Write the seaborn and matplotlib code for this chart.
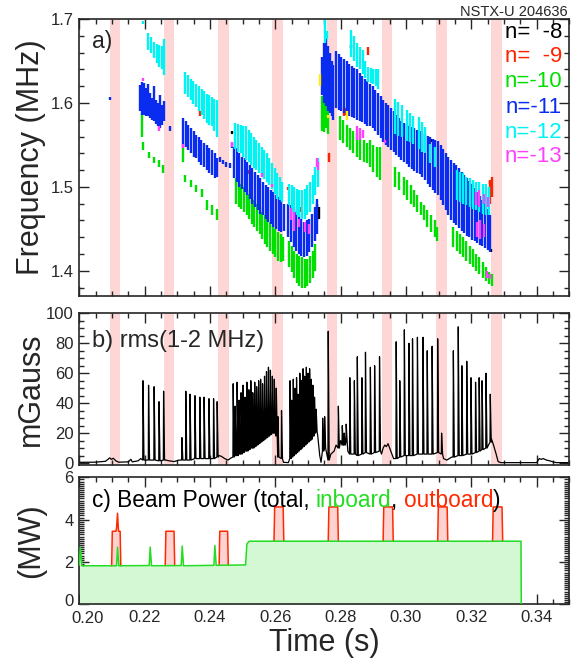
import numpy as np
import pandas as pd
import seaborn as sns
import matplotlib.pyplot as plt
from matplotlib.ticker import MultipleLocator, FormatStrFormatter, FuncFormatter

sns.set_theme(style="ticks")
plt.rcParams['font.family'] = ['Liberation Sans', 'DejaVu Sans']

# ---------------- data ----------------
# time windows of the outboard beam blips (shaded bands)
band_t0 = [0.2094, 0.2259, 0.2425, 0.2591, 0.2757, 0.2926, 0.3092, 0.3260]
band_t1 = [0.2124, 0.2291, 0.2457, 0.2623, 0.2788, 0.2956, 0.3125, 0.3293]

# panel a: mode activity, vertical streaks (time, f low, f high) per toroidal mode number
n11_t = [0.2094, 0.2186, 0.2192, 0.2198, 0.2204, 0.2211, 0.2217, 0.2223, 0.2229, 0.2235, 0.2241, 0.2247, 0.2253, 0.2259, 0.2278,
         0.2318, 0.2326, 0.2334, 0.2342, 0.2350, 0.2358, 0.2366, 0.2374, 0.2382, 0.2390, 0.2398, 0.2406, 0.2414, 0.2422,
         0.2432, 0.2440, 0.2450, 0.2460, 0.2468,
         0.2474, 0.2482, 0.2490, 0.2498, 0.2506, 0.2514, 0.2522, 0.2530, 0.2538, 0.2546, 0.2554, 0.2562, 0.2570, 0.2578,
         0.2586, 0.2594, 0.2602, 0.2610, 0.2618, 0.2626,
         0.2640, 0.2648, 0.2656, 0.2664, 0.2672, 0.2680, 0.2688, 0.2696, 0.2704, 0.2712, 0.2720, 0.2728,
         0.2742, 0.2748, 0.2754, 0.2760, 0.2766, 0.2772, 0.2778,
         0.2786, 0.2794, 0.2802, 0.2810, 0.2818, 0.2826, 0.2834, 0.2842, 0.2850, 0.2858, 0.2866, 0.2874, 0.2882, 0.2890,
         0.2898, 0.2906, 0.2914, 0.2922, 0.2930, 0.2938, 0.2946, 0.2954, 0.2962, 0.2970, 0.2978, 0.2986, 0.2994, 0.3002,
         0.3010, 0.3018, 0.3026, 0.3034, 0.3042, 0.3050, 0.3058, 0.3066, 0.3074, 0.3082, 0.3090, 0.3098, 0.3106, 0.3114,
         0.3122, 0.3130, 0.3138, 0.3146, 0.3154, 0.3162, 0.3170, 0.3178, 0.3186, 0.3194, 0.3202, 0.3210, 0.3218, 0.3226,
         0.3234, 0.3242, 0.3250, 0.3258]
n11_lo = [1.603, 1.590, 1.586, 1.586, 1.584, 1.584, 1.582, 1.580, 1.578, 1.575, 1.572, 1.570, 1.574, 1.578, 1.566,
          1.548, 1.548, 1.544, 1.540, 1.536, 1.534, 1.530, 1.526, 1.524, 1.520, 1.516, 1.514, 1.510, 1.512,
          1.530, 1.527, 1.524, 1.522, 1.546,
          1.510, 1.506, 1.500, 1.498, 1.494, 1.490, 1.486, 1.480, 1.476, 1.472, 1.468, 1.466, 1.462, 1.458,
          1.456, 1.452, 1.450, 1.448, 1.446, 1.448,
          1.440, 1.434, 1.428, 1.424, 1.420, 1.418, 1.416, 1.418, 1.422, 1.428, 1.436, 1.444,
          1.610, 1.600, 1.596, 1.590, 1.588, 1.585, 1.580,
          1.594, 1.592, 1.590, 1.588, 1.586, 1.585, 1.583, 1.582, 1.580, 1.578, 1.577, 1.575, 1.573, 1.572,
          1.570, 1.566, 1.562, 1.558, 1.554, 1.550, 1.547, 1.544, 1.541, 1.538, 1.535, 1.532, 1.530, 1.527,
          1.524, 1.521, 1.519, 1.517, 1.515, 1.512, 1.508, 1.504, 1.500, 1.496, 1.493, 1.490, 1.484, 1.478,
          1.472, 1.466, 1.461, 1.457, 1.454, 1.451, 1.448, 1.445, 1.442, 1.440, 1.437, 1.435, 1.433, 1.431,
          1.429, 1.427, 1.425, 1.422]
n11_hi = [1.607, 1.621, 1.625, 1.624, 1.618, 1.623, 1.612, 1.606, 1.620, 1.604, 1.600, 1.610, 1.598, 1.602, 1.572,
          1.582, 1.578, 1.574, 1.570, 1.566, 1.562, 1.560, 1.556, 1.552, 1.550, 1.546, 1.544, 1.540, 1.534,
          1.536, 1.532, 1.530, 1.528, 1.552,
          1.548, 1.546, 1.540, 1.536, 1.534, 1.530, 1.526, 1.522, 1.518, 1.514, 1.510, 1.506, 1.502, 1.500,
          1.496, 1.494, 1.490, 1.488, 1.486, 1.480,
          1.480, 1.478, 1.476, 1.470, 1.466, 1.462, 1.458, 1.460, 1.462, 1.468, 1.476, 1.486,
          1.655, 1.672, 1.680, 1.668, 1.660, 1.650, 1.645,
          1.662, 1.658, 1.655, 1.652, 1.650, 1.646, 1.644, 1.642, 1.640, 1.636, 1.632, 1.628, 1.626, 1.622,
          1.620, 1.616, 1.612, 1.608, 1.604, 1.600, 1.597, 1.594, 1.590, 1.586, 1.582, 1.579, 1.576, 1.575,
          1.573, 1.571, 1.570, 1.568, 1.566, 1.565, 1.563, 1.561, 1.559, 1.557, 1.556, 1.555, 1.550, 1.545,
          1.540, 1.536, 1.532, 1.529, 1.526, 1.522, 1.518, 1.514, 1.510, 1.507, 1.504, 1.499, 1.494, 1.489,
          1.484, 1.479, 1.474, 1.466]

n12_t = [0.2195, 0.2211, 0.2220, 0.2229, 0.2237, 0.2245, 0.2253, 0.2260,
         0.2324, 0.2332, 0.2341, 0.2349, 0.2357, 0.2366, 0.2375, 0.2382, 0.2390, 0.2398, 0.2405, 0.2413, 0.2421,
         0.2478, 0.2486, 0.2494, 0.2502, 0.2510, 0.2518, 0.2526, 0.2534, 0.2542, 0.2550, 0.2558, 0.2566, 0.2574,
         0.2582, 0.2590, 0.2598, 0.2606, 0.2614, 0.2622,
         0.2642, 0.2650, 0.2658, 0.2666, 0.2674, 0.2682, 0.2690, 0.2698, 0.2706, 0.2714, 0.2722, 0.2730,
         0.2752, 0.2758,
         0.2831, 0.2840, 0.2849, 0.2858, 0.2867, 0.2876, 0.2884, 0.2892, 0.2900, 0.2908, 0.2915,
         0.2967, 0.2977, 0.2988, 0.3003, 0.3013, 0.3023, 0.3039, 0.3049, 0.3059, 0.3074, 0.3090,
         0.3155, 0.3165, 0.3175, 0.3185, 0.3195, 0.3205, 0.3215, 0.3225, 0.3235, 0.3245, 0.3255]
n12_lo = [1.694, 1.663, 1.660, 1.653, 1.648, 1.643, 1.640, 1.633,
          1.611, 1.607, 1.603, 1.599, 1.595, 1.590, 1.586, 1.581, 1.576, 1.574, 1.572, 1.566, 1.560,
          1.545, 1.542, 1.540, 1.536, 1.532, 1.530, 1.526, 1.523, 1.520, 1.516, 1.512, 1.509, 1.506,
          1.502, 1.498, 1.492, 1.486, 1.484, 1.482,
          1.478, 1.472, 1.468, 1.466, 1.464, 1.462, 1.462, 1.466, 1.470, 1.480, 1.490, 1.500,
          1.672, 1.676,
          1.655, 1.650, 1.643, 1.640, 1.635, 1.630, 1.625, 1.624, 1.623, 1.620, 1.617,
          1.563, 1.561, 1.560, 1.555, 1.553, 1.551, 1.545, 1.542, 1.540, 1.528, 1.524,
          1.484, 1.482, 1.480, 1.478, 1.476, 1.474, 1.472, 1.470, 1.468, 1.466, 1.466]
n12_hi = [1.698, 1.683, 1.678, 1.673, 1.670, 1.669, 1.668, 1.676,
          1.637, 1.633, 1.629, 1.626, 1.623, 1.620, 1.617, 1.614, 1.611, 1.609, 1.607, 1.605, 1.603,
          1.576, 1.575, 1.574, 1.573, 1.572, 1.568, 1.564, 1.560, 1.556, 1.552, 1.548, 1.544, 1.540,
          1.534, 1.528, 1.522, 1.516, 1.512, 1.506,
          1.504, 1.502, 1.500, 1.498, 1.496, 1.496, 1.498, 1.502, 1.506, 1.514, 1.524, 1.534,
          1.700, 1.686,
          1.687, 1.680, 1.671, 1.667, 1.663, 1.650, 1.643, 1.642, 1.641, 1.641, 1.641,
          1.605, 1.601, 1.597, 1.591, 1.588, 1.585, 1.583, 1.577, 1.571, 1.551, 1.547,
          1.520, 1.518, 1.516, 1.512, 1.510, 1.508, 1.506, 1.506, 1.504, 1.504, 1.500]

n10_t = [0.2192, 0.2196, 0.2212, 0.2229, 0.2245, 0.2257,
         0.2318, 0.2324, 0.2341, 0.2357, 0.2375, 0.2390, 0.2405, 0.2421,
         0.2480, 0.2488, 0.2496, 0.2504, 0.2512, 0.2520, 0.2528, 0.2536, 0.2544, 0.2552, 0.2560, 0.2568, 0.2576,
         0.2584, 0.2592, 0.2600, 0.2608, 0.2616, 0.2624,
         0.2642, 0.2650, 0.2658, 0.2666, 0.2674, 0.2682, 0.2690, 0.2698, 0.2706, 0.2714, 0.2722,
         0.2744, 0.2750, 0.2756, 0.2762,
         0.2798, 0.2808, 0.2818, 0.2828, 0.2838, 0.2849, 0.2860, 0.2870, 0.2880, 0.2890, 0.2900, 0.2910, 0.2921,
         0.2967, 0.2980, 0.2995, 0.3003, 0.3015, 0.3025, 0.3035, 0.3045, 0.3055, 0.3065, 0.3078, 0.3088, 0.3094,
         0.3145, 0.3155, 0.3165, 0.3175, 0.3185, 0.3195, 0.3205, 0.3215, 0.3225, 0.3235, 0.3245, 0.3255, 0.3262]
n10_lo = [1.560, 1.544, 1.534, 1.528, 1.524, 1.516,
          1.530, 1.506, 1.500, 1.494, 1.488, 1.472, 1.466, 1.460,
          1.480, 1.476, 1.474, 1.470, 1.466, 1.462, 1.456, 1.452, 1.448, 1.444, 1.438, 1.432, 1.428,
          1.424, 1.420, 1.416, 1.412, 1.410, 1.412,
          1.404, 1.398, 1.392, 1.386, 1.382, 1.380, 1.380, 1.382, 1.386, 1.392, 1.400,
          1.566, 1.565, 1.570, 1.563,
          1.556, 1.552, 1.548, 1.544, 1.540, 1.536, 1.532, 1.530, 1.528, 1.524, 1.518, 1.512, 1.508,
          1.500, 1.496, 1.490, 1.484, 1.480, 1.476, 1.470, 1.466, 1.460, 1.452, 1.446, 1.440, 1.436,
          1.428, 1.424, 1.420, 1.416, 1.412, 1.408, 1.404, 1.400, 1.396, 1.392, 1.388, 1.384, 1.382]
n10_hi = [1.588, 1.554, 1.542, 1.536, 1.532, 1.526,
          1.548, 1.514, 1.508, 1.502, 1.498, 1.484, 1.478, 1.474,
          1.510, 1.508, 1.504, 1.500, 1.496, 1.492, 1.488, 1.484, 1.480, 1.476, 1.470, 1.466, 1.462,
          1.458, 1.454, 1.450, 1.446, 1.444, 1.440,
          1.436, 1.430, 1.424, 1.420, 1.418, 1.416, 1.414, 1.414, 1.418, 1.424, 1.432,
          1.608, 1.612, 1.605, 1.590,
          1.584, 1.580, 1.574, 1.570, 1.566, 1.564, 1.560, 1.556, 1.552, 1.556, 1.550, 1.548, 1.548,
          1.524, 1.518, 1.512, 1.508, 1.502, 1.496, 1.490, 1.482, 1.478, 1.472, 1.466, 1.460, 1.452,
          1.452, 1.448, 1.444, 1.440, 1.436, 1.430, 1.426, 1.420, 1.416, 1.410, 1.404, 1.398, 1.396]

n13_t = [0.2195, 0.2245, 0.2318, 0.2466, 0.2560, 0.2590, 0.2648, 0.2656, 0.2672, 0.2690, 0.2704, 0.2727, 0.2732,
         0.2850, 0.2860, 0.2869, 0.2935, 0.3215, 0.3225, 0.3240, 0.3250, 0.3218, 0.3228, 0.3238, 0.3248, 0.3258]
n13_lo = [1.626, 1.566, 1.546, 1.548, 1.512, 1.500, 1.460, 1.448, 1.452, 1.446, 1.444, 1.524, 1.520,
          1.556, 1.556, 1.558, 1.552, 1.478, 1.476, 1.480, 1.476, 1.440, 1.438, 1.440, 1.392, 1.390]
n13_hi = [1.630, 1.572, 1.551, 1.553, 1.517, 1.504, 1.475, 1.470, 1.462, 1.458, 1.456, 1.534, 1.530,
          1.572, 1.570, 1.568, 1.556, 1.494, 1.496, 1.492, 1.488, 1.458, 1.460, 1.456, 1.400, 1.396]

n9_t = [0.2370, 0.2520, 0.2640, 0.2680, 0.2748, 0.2756, 0.2763, 0.2810, 0.2816, 0.2884, 0.3257, 0.3263]
n9_lo = [1.585, 1.515, 1.496, 1.470, 1.584, 1.586, 1.530, 1.585, 1.586, 1.657, 1.480, 1.488]
n9_hi = [1.590, 1.520, 1.500, 1.476, 1.600, 1.598, 1.540, 1.595, 1.594, 1.667, 1.508, 1.512]

n8_t = [0.2467, 0.2728, 0.2733, 0.2831, 0.3081, 0.3257, 0.3259]
n8_lo = [1.563, 1.460, 1.462, 1.665, 1.553, 1.503, 1.422]
n8_hi = [1.567, 1.480, 1.476, 1.669, 1.557, 1.507, 1.426]

n7_t = [0.2737, 0.2760, 0.2818]
n7_lo = [1.620, 1.582, 1.580]
n7_hi = [1.635, 1.586, 1.590]

# panel b: rms of 1-2 MHz fluctuations (mGauss): spikes and quiet background
spike_t = [0.2195, 0.2212, 0.2229, 0.2244, 0.2258,
           0.2314, 0.2326, 0.2339, 0.2354, 0.2369, 0.2382, 0.2397, 0.2411, 0.2422,
           0.2471, 0.2477, 0.2483, 0.2489, 0.2495, 0.2501, 0.2507, 0.2513, 0.2519, 0.2525, 0.2531, 0.2537,
           0.2543, 0.2549, 0.2555, 0.2561, 0.2567, 0.2573, 0.2579, 0.2585, 0.2591, 0.2597, 0.2603, 0.2608, 0.2619,
           0.2645, 0.2650, 0.2655, 0.2660, 0.2665, 0.2670, 0.2675, 0.2680, 0.2685, 0.2690, 0.2695, 0.2700,
           0.2705, 0.2710, 0.2715, 0.2720, 0.2725,
           0.2745, 0.2751, 0.2762, 0.2793, 0.2805, 0.2811, 0.2817,
           0.2828, 0.2842, 0.2851, 0.2865, 0.2876, 0.2891, 0.2904, 0.2919,
           0.2970, 0.2981, 0.2995, 0.3009, 0.3020, 0.3035, 0.3052, 0.3065, 0.3080, 0.3097, 0.3109,
           0.3145, 0.3160, 0.3171, 0.3186, 0.3199, 0.3213, 0.3224, 0.3233, 0.3245, 0.3258]
spike_top = [55, 52, 51, 41, 48,
             17, 48, 46, 45, 44, 44, 43, 43, 41,
             53, 38, 54, 42, 47, 52, 44, 54, 49, 55, 47, 54,
             51, 55, 56, 53, 58, 61, 64, 62, 58, 56, 50, 31, 35,
             55, 42, 56, 50, 57, 46, 60, 55, 63, 58, 64, 60,
             63, 56, 52, 44, 36,
             30, 31, 88, 38, 25, 20, 26,
             57, 55, 71, 57, 74, 64, 65, 71,
             81, 55, 89, 80, 83, 84, 84, 75, 78, 83, 20,
             75, 91, 65, 68, 57, 54, 57, 55, 60, 46]
spike_base = [2, 2, 2, 1.5, 2,
              2, 2, 2, 3, 3, 3, 3, 3, 4,
              4, 5, 5, 6, 6, 7, 8, 8, 9, 10, 10, 11,
              12, 13, 14, 15, 16, 17, 18, 19, 20, 20, 18, 4, 3,
              3, 4, 5, 6, 7, 8, 9, 10, 11, 12, 13, 14,
              15, 16, 18, 20, 21,
              8, 10, 2, 10, 12, 12, 14,
              6, 6, 5, 6, 7, 6, 7, 8,
              3, 4, 5, 5, 5, 6, 6, 6, 6, 7, 6,
              4, 5, 5, 6, 6, 7, 8, 9, 10, 14]
quiet_t = [0.2000, 0.2050, 0.2080, 0.2088, 0.2093, 0.2098, 0.2104, 0.2112, 0.2120, 0.2150, 0.2158, 0.2162,
           0.2180, 0.2188, 0.2265, 0.2275, 0.2290, 0.2305, 0.2428, 0.2435, 0.2445, 0.2455, 0.2465,
           0.2625, 0.2640, 0.2730, 0.2736, 0.2740, 0.2770, 0.2780, 0.2786, 0.2800, 0.2822,
           0.2925, 0.2930, 0.2935, 0.2940, 0.2945, 0.2950, 0.2955, 0.2962, 0.3115, 0.3125, 0.3140,
           0.3262, 0.3268, 0.3276, 0.3282, 0.3290, 0.3400, 0.3408, 0.3414, 0.3420, 0.3430, 0.3440,
           0.3450, 0.3460, 0.3500]
quiet_v = [0.5, 0.6, 1.2, 2.5, 3.5, 2.5, 3.2, 1.5, 0.6, 0.8, 2.5, 0.8,
           1.5, 3.0, 2.0, 1.5, 1.0, 2.0, 5.0, 4.5, 3.0, 2.0, 3.5,
           0.5, 0.3, 18, 5, 0.5, 6, 8, 12, 15, 8,
           6, 10, 12, 11, 13, 10, 7, 3, 3, 2, 4,
           16, 12, 6, 1, 0.3, 0.3, 3, 2.5, 3, 2, 1.5,
           0.8, 0.3, 0.3]

# panel c: beam power (MW)
inboard_t = [0.2000, 0.2003, 0.2008, 0.2114, 0.2117, 0.2121, 0.2214, 0.2217, 0.2221, 0.2312, 0.2315, 0.2319,
             0.2412, 0.2415, 0.2419, 0.2509, 0.2513, 0.2520, 0.3352, 0.3353]
inboard_p = [1.85, 2.70, 1.82, 1.82, 2.70, 1.82, 1.83, 2.70, 1.82, 1.83, 2.75, 1.82,
             1.84, 2.78, 1.84, 1.86, 2.85, 2.98, 2.98, 0.0]
total_t = [0.2099, 0.2101, 0.2112, 0.2114, 0.2117, 0.2120, 0.2125, 0.2127, np.nan,
           0.2263, 0.2265, 0.2290, 0.2292, np.nan, 0.2428, 0.2430, 0.2454, 0.2456, np.nan,
           0.2596, 0.2598, 0.2624, 0.2626, np.nan, 0.2762, 0.2764, 0.2791, 0.2793, np.nan,
           0.2930, 0.2932, 0.2959, 0.2961, np.nan, 0.3097, 0.3099, 0.3126, 0.3128, np.nan,
           0.3265, 0.3267, 0.3294, 0.3296]
total_p = [1.82, 3.45, 3.45, 3.60, 4.30, 3.45, 3.45, 1.82, np.nan,
           1.83, 3.45, 3.45, 1.83, np.nan, 1.84, 3.45, 3.45, 1.84, np.nan,
           2.98, 4.60, 4.60, 2.98, np.nan, 2.98, 4.60, 4.60, 2.98, np.nan,
           2.98, 4.60, 4.60, 2.98, np.nan, 2.98, 4.60, 4.60, 2.98, np.nan,
           2.98, 4.60, 4.60, 2.98]

modes = [
    ("n=  -8", "black", n8_t, n8_lo, n8_hi),
    ("n=  -9", "#ff2200", n9_t, n9_lo, n9_hi),
    ("n=-10", "#00e000", n10_t, n10_lo, n10_hi),
    ("n=-11", "#0a2cf0", n11_t, n11_lo, n11_hi),
    ("n=-12", "#00f4f4", n12_t, n12_lo, n12_hi),
    ("n=-13", "#ff40ff", n13_t, n13_lo, n13_hi),
]

band_color = "#ffd6d6"
font_lab = 22

# ---------------- figure ----------------
fig = plt.figure(figsize=(5.81, 6.62), dpi=100)
L, W = 0.1365, 0.8434
ax_a = fig.add_axes([L, 0.5529, W, 0.4184])
ax_b = fig.add_axes([L, 0.2971, W, 0.2296])
ax_c = fig.add_axes([L, 0.0872, W, 0.1918])

for ax in (ax_a, ax_b, ax_c):
    ax.set_xlim(0.20, 0.35)
    ax.xaxis.set_major_locator(MultipleLocator(0.02))
    ax.xaxis.set_minor_locator(MultipleLocator(0.005))
    ax.tick_params(which="both", direction="in", top=True, right=True, labelsize=12, width=1, pad=4)
    ax.tick_params(which="major", length=7)
    ax.tick_params(which="minor", length=3.5)
    for s in ax.spines.values():
        s.set_linewidth(1.2)
    ax.yaxis.set_label_coords(-0.068, 0.5)

for ax in (ax_a, ax_b):
    for t0, t1 in zip(band_t0, band_t1):
        ax.axvspan(t0, t1, color=band_color, lw=0, zorder=0)
    ax.tick_params(labelbottom=False)

# panel a
draw_order = [3, 2, 4, 5, 0, 1]
for i in draw_order:
    name, col, t, lo, hi = modes[i]
    ax_a.vlines(t, lo, hi, colors=col, linewidth=1.7, zorder=2 + i * 0.1)
ax_a.vlines(n7_t, n7_lo, n7_hi, colors="#ffee00", linewidth=1.7, zorder=3)
ax_a.set_ylim(1.37, 1.70)
ax_a.yaxis.set_major_locator(MultipleLocator(0.1))
ax_a.yaxis.set_minor_locator(MultipleLocator(0.02))
ax_a.yaxis.set_major_formatter(FormatStrFormatter("%.1f"))
ax_a.set_ylabel("Frequency (MHz)", fontsize=font_lab)
ax_a.text(0.025, 0.92, "a)", transform=ax_a.transAxes, fontsize=16.5, va="center")
leg_y = [0.953, 0.863, 0.773, 0.682, 0.590, 0.502]
for (name, col, *_), y in zip(modes, leg_y):
    ax_a.text(0.985, y, name, color=col, transform=ax_a.transAxes, fontsize=16,
              ha="right", va="center", zorder=5)
fig.text(568 / 581, 1 - 12 / 662, "NSTX-U 204636", ha="right", va="center", fontsize=10.5)

# panel b
pts_t = list(quiet_t)
pts_v = list(quiet_v)
for t, h, b in zip(spike_t, spike_top, spike_base):
    pts_t += [t - 0.00008, t, t + 0.0003]
    pts_v += [b, h, b]
rms = pd.DataFrame({"t": pts_t, "v": pts_v}).sort_values("t")
sns.lineplot(data=rms, x="t", y="v", ax=ax_b, color="black", lw=0.9, sort=False, estimator=None, zorder=2)
ax_b.set_ylim(-1.5, 100)
ax_b.yaxis.set_major_locator(MultipleLocator(20))
ax_b.yaxis.set_minor_locator(MultipleLocator(5))
ax_b.set_ylabel("mGauss", fontsize=font_lab)
ax_b.set_xlabel("")
ax_b.text(0.025, 0.82, "b) rms(1-2 MHz)", transform=ax_b.transAxes, fontsize=17, va="center")

# panel c
ax_c.fill_between(total_t, 0, total_p, color="#ffd2d2", lw=0, zorder=1)
ax_c.fill_between(inboard_t, 0, inboard_p, color="#d4f8d4", lw=0, zorder=2)
ax_c.plot(total_t, total_p, color="#ff2a00", lw=1.1, zorder=3)
sns.lineplot(x=inboard_t, y=inboard_p, ax=ax_c, color="#22dd22", lw=1.1, sort=False, estimator=None, zorder=4)
ax_c.set_ylim(0, 6)
ax_c.yaxis.set_major_locator(MultipleLocator(2))
ax_c.yaxis.set_minor_locator(MultipleLocator(0.1))
# the corner labels "0" and "0.20" are drawn separately, nudged apart as in the original
ax_c.yaxis.set_major_formatter(FuncFormatter(lambda v, p: "" if abs(v) < 1e-9 else f"{v:.0f}"))
ax_c.xaxis.set_major_formatter(FuncFormatter(lambda v, p: "" if abs(v - 0.20) < 1e-9 else f"{v:.2f}"))
ax_c.annotate("0", xy=(0, 0), xycoords="axes fraction", xytext=(-4, 2), textcoords="offset points",
              ha="right", va="center", fontsize=12)
ax_c.annotate("0.20", xy=(0, 0), xycoords="axes fraction", xytext=(6, -4.5), textcoords="offset points",
              ha="center", va="top", fontsize=12)
ax_c.set_ylabel("(MW)", fontsize=font_lab)
ax_c.set_xlabel("Time (s)", fontsize=font_lab, labelpad=2)

pieces = [("c) Beam Power (total,", "black", 0), ("inboard", "#22dd22", 4.5), (",", "black", 0),
          ("outboard", "#ff2a00", 4.5), (")", "black", 0)]
prev = ax_c.text(0.025, 0.82, pieces[0][0], color=pieces[0][1], transform=ax_c.transAxes,
                 fontsize=16.3, va="center", zorder=6)
for s, col, gap in pieces[1:]:
    prev = ax_c.annotate(s, xy=(1, 0), xycoords=prev, xytext=(gap, 0), textcoords="offset points",
                         va="bottom", color=col, fontsize=16.3, zorder=6)

fig.savefig("out.png", dpi=100)
